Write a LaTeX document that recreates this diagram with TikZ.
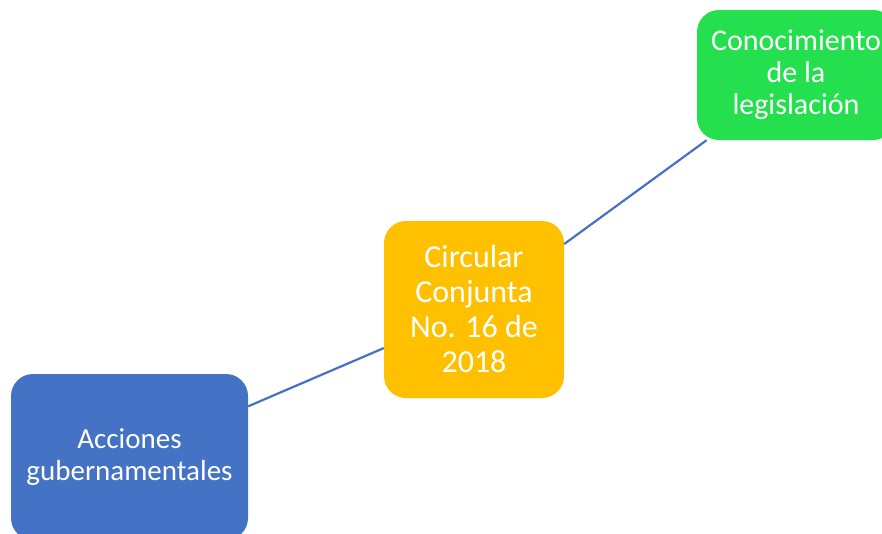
\documentclass[tikz,border=0pt]{standalone}
\usepackage{fontspec}
\setmainfont{Carlito}
\usepackage{xcolor}
\usepackage{tikz}
\usetikzlibrary{positioning}
\definecolor{boxblue}{HTML}{4472C4}
\definecolor{boxyellow}{HTML}{FFC000}
\definecolor{boxgreen}{HTML}{24E04F}
\colorlet{linkcol}{boxblue}

\begin{document}
\begin{tikzpicture}[
x=1pt, y=-1pt,
MyBox/.style={rectangle,rounded corners=22pt,text=white,align=center,inner sep=0pt},
Link/.style={draw=linkcol,line width=2.2pt},
every node/.style={scale=1}
]
\useasboundingbox (0,0) rectangle (882,533);
\clip (0,0) rectangle (882,533);

% the three boxes
\node[MyBox,fill=boxblue,minimum width=237pt,minimum height=166pt,
  font=\fontsize{29}{32}\selectfont] (acciones) at (129.5,457)
  {Acciones\\gubernamentales};

\node[MyBox,fill=boxyellow,minimum width=180pt,minimum height=177pt,
  font=\fontsize{32}{35}\selectfont] (circular) at (474,309.5)
  {Circular\\Conjunta\\No. 16 de\\2018};

\node[MyBox,fill=boxgreen,minimum width=198pt,minimum height=130pt,
  font=\fontsize{30}{32}\selectfont] (conocimiento) at (796,75)
  {Conocimiento\\de la\\legislación};

% connectors
\draw[Link] (acciones) -- (circular);
\draw[Link] (circular) -- (conocimiento);

\end{tikzpicture}
\end{document}
